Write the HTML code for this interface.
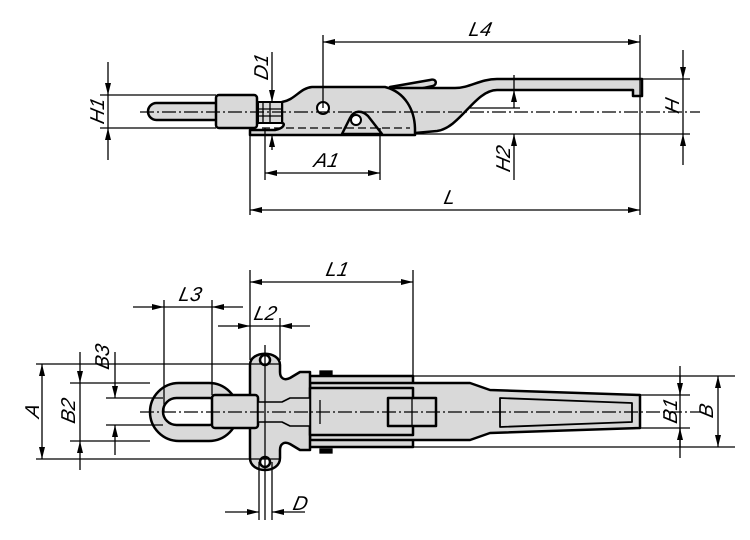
<!DOCTYPE html>
<html><head><style>html,body{margin:0;padding:0;background:#fff}svg{display:block}text{font-style:oblique}</style></head><body>
<svg width="750" height="540" viewBox="0 0 750 540" xmlns="http://www.w3.org/2000/svg" font-family="Liberation Sans, sans-serif" font-size="20">
<defs>
<marker id="a" viewBox="0 0 12 6" refX="12" refY="3" markerWidth="12" markerHeight="6" orient="auto-start-reverse" markerUnits="userSpaceOnUse"><path d="M0,0L12,3L0,6z" fill="#000"/></marker>
</defs>
<g stroke="#000" fill="none">
<g stroke-width="2.5" fill="#d9d9d9" stroke-linejoin="round">
<rect x="148" y="103" width="90" height="17" rx="8.5"/>
<path d="M390,87 L430,80 C436,78 438,84 433,86 L405,92 Z"/>
<path d="M385,88 L455,88 C470,88 480,79 497,79 L642,79 L642,96 L633,96 L633,90 L497,90 C475,90 460,128 437,131 L415,133 L400,133 Z"/>
<path d="M282,102 C295,100 300,88 312,87 L385,87 C405,92 415,110 415,130 L415,135 L250,135 L250,130 L275,130 C285,128 285,123 282,123 Z"/>
<rect x="216" y="95" width="41" height="33" rx="3"/>
<path d="M342,134 L350,118 C354,110 362,110 368,116 L382,134 Z"/>
</g>
<g stroke-width="1.3">
<rect x="258" y="102" width="24" height="21" fill="#d9d9d9" stroke-width="2"/>
<line x1="263" y1="102" x2="263" y2="123"/><line x1="270" y1="102" x2="270" y2="123"/>
<line x1="258" y1="109" x2="282" y2="109"/><line x1="258" y1="116" x2="282" y2="116"/>
<circle cx="323" cy="108" r="6" fill="#fff" stroke-width="2"/>
<circle cx="356" cy="120" r="5" fill="#fff" stroke-width="2"/>
<line x1="140" y1="112" x2="700" y2="112" stroke-dasharray="14,3,2,3"/>
<line x1="262" y1="128" x2="410" y2="128" stroke-dasharray="8,4"/>
<line x1="100" y1="95" x2="216" y2="95"/><line x1="100" y1="128" x2="216" y2="128"/>
<line x1="108" y1="62" x2="108" y2="95" marker-end="url(#a)"/><line x1="108" y1="160" x2="108" y2="128" marker-end="url(#a)"/>
<line x1="108" y1="95" x2="108" y2="128"/>
<line x1="272" y1="52" x2="272" y2="102" marker-end="url(#a)"/><line x1="272" y1="150" x2="272" y2="135" marker-end="url(#a)"/>
<line x1="323" y1="35" x2="323" y2="108"/><line x1="640" y1="35" x2="640" y2="215"/>
<line x1="323" y1="42" x2="640" y2="42" marker-start="url(#a)" marker-end="url(#a)"/>
<line x1="250" y1="135" x2="250" y2="215"/>
<line x1="250" y1="210" x2="640" y2="210" marker-start="url(#a)" marker-end="url(#a)"/>
<line x1="265" y1="128" x2="265" y2="180"/><line x1="380" y1="128" x2="380" y2="180"/>
<line x1="265" y1="173" x2="380" y2="173" marker-start="url(#a)" marker-end="url(#a)"/>
<line x1="415" y1="134" x2="690" y2="134"/>
<line x1="642" y1="79" x2="690" y2="79"/>
<line x1="683" y1="50" x2="683" y2="79" marker-end="url(#a)"/><line x1="683" y1="165" x2="683" y2="134" marker-end="url(#a)"/><line x1="683" y1="79" x2="683" y2="134"/>
<line x1="470" y1="108" x2="520" y2="108"/>
<line x1="514" y1="75" x2="514" y2="90"/><line x1="514" y1="90" x2="514" y2="108" marker-start="url(#a)"/>
<line x1="514" y1="180" x2="514" y2="134" marker-end="url(#a)"/>
</g>
<g stroke-width="2.5" fill="#d9d9d9" stroke-linejoin="round">
<path d="M305,376 L413,376 L413,447 L305,447 Z"/>
<path d="M310,383 L470,383 L490,390 L640,395 L640,428 L490,433 L470,440 L310,440 Z"/>
<rect x="150" y="383" width="88" height="58" rx="29"/>
<path d="M250,365 C250,350 280,350 280,365 L280,372 C280,378 284,381 290,378 L300,372 L310,372 L310,450 L300,450 L290,444 C284,441 280,444 280,450 L280,458 C280,474 250,474 250,458 Z"/>
<rect x="163" y="398" width="60" height="27" rx="13.5" fill="#fff"/>
<rect x="212" y="395" width="46" height="33" rx="3"/>
<rect x="310" y="388" width="103" height="47"/>
<rect x="388" y="398" width="48" height="28"/>
<path d="M500,398 L632,403 L632,422 L500,427 Z" stroke-width="1.8"/>
<path d="M258,402 L282,402 L290,398 L310,398 L310,426 L290,426 L282,422 L258,422 Z" stroke-width="1.6"/>
<circle cx="265" cy="360" r="5" fill="#fff"/><circle cx="265" cy="462" r="5" fill="#fff"/>
</g>
<g stroke-width="1.3">
<rect x="320" y="371" width="12" height="4" fill="#000"/><rect x="320" y="449" width="12" height="4" fill="#000"/>
<line x1="140" y1="412" x2="700" y2="412" stroke-dasharray="14,3,2,3"/>
<line x1="412" y1="398" x2="412" y2="426"/><line x1="320" y1="400" x2="320" y2="424"/>
<line x1="265" y1="345" x2="265" y2="520"/><line x1="259" y1="462" x2="259" y2="520"/><line x1="272" y1="462" x2="272" y2="520"/>
<line x1="225" y1="512" x2="259" y2="512" marker-end="url(#a)"/><line x1="305" y1="512" x2="272" y2="512" marker-end="url(#a)"/>
<line x1="250" y1="270" x2="250" y2="360"/><line x1="413" y1="270" x2="413" y2="376"/>
<line x1="250" y1="282" x2="413" y2="282" marker-start="url(#a)" marker-end="url(#a)"/>
<line x1="280" y1="318" x2="280" y2="360"/>
<line x1="218" y1="326" x2="250" y2="326" marker-end="url(#a)"/><line x1="310" y1="326" x2="280" y2="326" marker-end="url(#a)"/><line x1="250" y1="326" x2="280" y2="326"/>
<line x1="164" y1="300" x2="164" y2="412"/><line x1="212" y1="300" x2="212" y2="395"/>
<line x1="133" y1="307" x2="164" y2="307" marker-end="url(#a)"/><line x1="243" y1="307" x2="212" y2="307" marker-end="url(#a)"/><line x1="164" y1="307" x2="212" y2="307"/>
<line x1="36" y1="364" x2="280" y2="364"/><line x1="36" y1="459" x2="280" y2="459"/>
<line x1="70" y1="383" x2="150" y2="383"/><line x1="70" y1="441" x2="150" y2="441"/>
<line x1="106" y1="398" x2="163" y2="398"/><line x1="106" y1="425" x2="163" y2="425"/>
<line x1="42" y1="364" x2="42" y2="459" marker-start="url(#a)" marker-end="url(#a)"/>
<line x1="80" y1="352" x2="80" y2="383" marker-end="url(#a)"/><line x1="80" y1="470" x2="80" y2="441" marker-end="url(#a)"/><line x1="80" y1="383" x2="80" y2="441"/>
<line x1="115" y1="352" x2="115" y2="398" marker-end="url(#a)"/><line x1="115" y1="455" x2="115" y2="425" marker-end="url(#a)"/>
<line x1="413" y1="376" x2="735" y2="376"/><line x1="413" y1="447" x2="735" y2="447"/>
<line x1="640" y1="395" x2="690" y2="395"/><line x1="640" y1="428" x2="690" y2="428"/>
<line x1="680" y1="366" x2="680" y2="395" marker-end="url(#a)"/><line x1="680" y1="458" x2="680" y2="428" marker-end="url(#a)"/><line x1="680" y1="376" x2="680" y2="447"/>
<line x1="718" y1="376" x2="718" y2="447" marker-start="url(#a)" marker-end="url(#a)"/>
</g>
</g>
<g fill="#000" stroke="none">
<text transform="translate(468,36) skewX(-12)">L4</text>
<text transform="translate(443,204) skewX(-12)">L</text>
<text transform="translate(313,167) skewX(-12)">A1</text>
<text transform="translate(325,276) skewX(-12)">L1</text>
<text transform="translate(178,301) skewX(-12)">L3</text>
<text transform="translate(253,320) skewX(-12)">L2</text>
<text transform="translate(292,510) skewX(-12)">D</text>
<text transform="translate(104,112) rotate(-90) skewX(-12)" text-anchor="middle">H1</text>
<text transform="translate(268,68) rotate(-90) skewX(-12)" text-anchor="middle">D1</text>
<text transform="translate(510,160) rotate(-90) skewX(-12)" text-anchor="middle">H2</text>
<text transform="translate(679,107) rotate(-90) skewX(-12)" text-anchor="middle">H</text>
<text transform="translate(39,412) rotate(-90) skewX(-12)" text-anchor="middle">A</text>
<text transform="translate(75,412) rotate(-90) skewX(-12)" text-anchor="middle">B2</text>
<text transform="translate(109,358) rotate(-90) skewX(-12)" text-anchor="middle">B3</text>
<text transform="translate(677,412) rotate(-90) skewX(-12)" text-anchor="middle">B1</text>
<text transform="translate(713,412) rotate(-90) skewX(-12)" text-anchor="middle">B</text>
</g>
</svg>
</body></html>
